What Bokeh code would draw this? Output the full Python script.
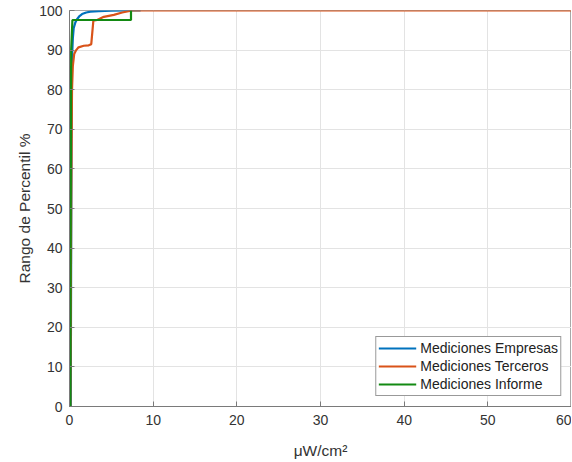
from bokeh.plotting import figure
from bokeh.embed import file_html
from bokeh.resources import INLINE
from bokeh.models import Range1d, FixedTicker, Legend, LegendItem

# Data (CDF-like percentile curves)
emp_x = [0, 0.15, 0.2, 0.25, 0.3, 0.4, 0.5, 0.7, 0.9, 1.2, 1.5, 2.0, 2.5, 3.5, 5.0, 7.0, 8.5]
emp_y = [0, 0, 40, 75, 88, 93, 95.5, 97, 97.8, 98.6, 99.1, 99.5, 99.7, 99.85, 99.95, 100, 100]

ter_x = [0, 0.1, 0.2, 0.3, 0.4, 0.56, 0.8, 1.08, 1.7, 2.3, 2.6, 2.85, 3.3, 4.1, 5.3, 6.3, 7.5, 60]
ter_y = [0, 0, 50, 80, 86, 89, 90, 90.7, 91.1, 91.2, 91.5, 97.4, 97.6, 98.4, 98.9, 99.5, 100, 100]

inf_x = [0, 0.1, 0.15, 0.2, 0.35, 7.35, 7.35]
inf_y = [0, 0, 50, 90, 97.6, 97.6, 100]

series_names = ["Mediciones Empresas", "Mediciones Terceros", "Mediciones Informe"]
series_colors = ["#0072BD", "#D95319", "#138a13"]

x_ticks = [0, 10, 20, 30, 40, 50, 60]
y_ticks = [0, 10, 20, 30, 40, 50, 60, 70, 80, 90, 100]

FONT = "Liberation Sans"
TXT = "#333333"
AX = "#7a7a7a"

p = figure(width=571, height=461, output_backend="svg", toolbar_location=None,
           x_range=Range1d(0, 60), y_range=Range1d(0, 100),
           min_border_left=69, min_border_right=0, min_border_top=10, min_border_bottom=55)

p.background_fill_color = "white"
p.border_fill_color = "white"
p.outline_line_color = "#a8a8a8"
p.outline_line_width = 1

for ax in (p.xaxis[0], p.yaxis[0]):
    ax.axis_line_color = AX
    ax.major_tick_line_color = AX
    ax.major_tick_in = 5
    ax.major_tick_out = 0
    ax.minor_tick_line_color = None
    ax.major_label_text_font = FONT
    ax.major_label_text_font_size = "14px"
    ax.major_label_text_color = TXT
    ax.axis_label_text_font = FONT
    ax.axis_label_text_font_size = "15.5px"
    ax.axis_label_text_font_style = "normal"
    ax.axis_label_text_color = TXT

p.xaxis[0].ticker = FixedTicker(ticks=x_ticks)
p.yaxis[0].ticker = FixedTicker(ticks=y_ticks)
p.xaxis[0].major_label_standoff = 8
p.yaxis[0].major_label_standoff = 7
p.xaxis[0].axis_label = "\u03bcW/cm\u00b2"
p.yaxis[0].axis_label = "Rango de Percentil %"
p.xaxis[0].axis_label_standoff = 14
p.yaxis[0].axis_label_standoff = 3

p.xgrid.grid_line_color = "#e3e3e3"
p.ygrid.grid_line_color = "#e3e3e3"

r1 = p.line(emp_x, emp_y, line_color=series_colors[0], line_width=2.2)
r2 = p.line(ter_x, ter_y, line_color=series_colors[1], line_width=2.2)
r3 = p.line(inf_x, inf_y, line_color=series_colors[2], line_width=2.2)

legend = Legend(items=[LegendItem(label=series_names[0], renderers=[r1]),
                       LegendItem(label=series_names[1], renderers=[r2]),
                       LegendItem(label=series_names[2], renderers=[r3])],
                location="bottom_right")
legend.label_text_font = FONT
legend.label_text_font_size = "14px"
legend.label_text_color = "#222222"
legend.glyph_width = 38
legend.glyph_height = 18
legend.label_height = 18
legend.label_standoff = 4
legend.spacing = 0
legend.padding = 2
legend.margin = 10
legend.border_line_color = "#333333"
legend.border_line_width = 1
legend.background_fill_color = "white"
legend.background_fill_alpha = 1
p.add_layout(legend)

open("out.html", "w").write(file_html(p, INLINE))
